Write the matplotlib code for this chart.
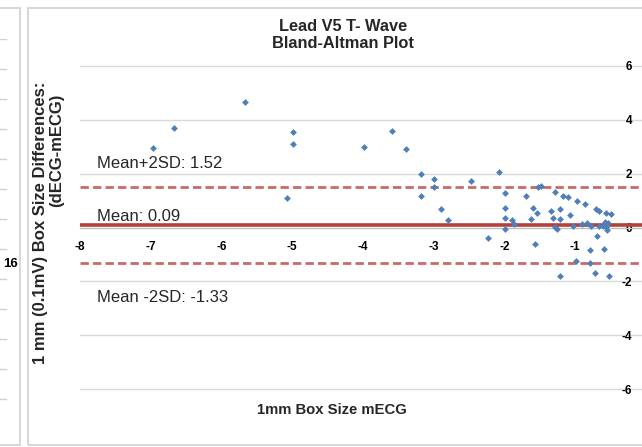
import matplotlib
matplotlib.use("Agg")
import matplotlib.pyplot as plt
from matplotlib.patches import Rectangle

plt.rcParams['font.family'] = ['Liberation Sans', 'DejaVu Sans']
plt.rcParams['axes.unicode_minus'] = False

# 1mm box size from mECG (x) and dECG-mECG difference (y)
mecg = [-6.97, -6.67, -5.67, -4.99, -4.99, -5.08, -3.98, -3.59, -3.39, -3.18,
        -3.18, -2.99, -2.99, -2.90, -2.80, -2.47, -2.23, -2.08, -1.99, -1.99,
        -1.99, -1.99, -1.90, -1.86, -1.69, -1.63, -1.60, -1.54, -1.57, -1.53,
        -1.48, -1.34, -1.31, -1.29, -1.28, -1.26, -1.22, -1.21, -1.22, -1.17,
        -1.10, -1.08, -1.03, -0.99, -0.98, -0.91, -0.86, -0.84, -0.79, -0.79,
        -0.78, -0.72, -0.70, -0.69, -0.67, -0.66, -0.61, -0.59, -0.58, -0.56,
        -0.56, -0.53, -0.50, -0.55, -0.54]
diff = [2.97, 3.69, 4.66, 3.56, 3.09, 1.08, 2.98, 3.58, 2.90, 1.98,
        1.18, 1.79, 1.50, 0.69, 0.28, 1.73, -0.40, 2.07, 1.29, 0.71,
        0.36, -0.06, 0.27, 0.14, 1.18, 0.32, 0.74, 0.54, -0.61, 1.52,
        1.53, 0.60, 0.34, 1.31, 0.03, -0.07, 0.68, 0.30, -1.79, 1.18,
        1.12, 0.46, 0.06, -1.24, 0.98, 0.13, 0.88, 0.16, -0.85, -1.31,
        0.06, -1.70, 0.68, -0.30, 0.07, 0.61, 0.06, -0.81, 0.22, 0.53,
        0.01, -1.80, 0.49, -0.09, 0.15]

mean_diff = 0.09
upper_loa = 1.52
lower_loa = -1.33

x_ticks = [-8, -7, -6, -5, -4, -3, -2, -1]
y_ticks = [-6, -4, -2, 0, 2, 4, 6]

# neighbouring (cropped) chart on the left edge
side_grid = list(range(1, 14))

W, H = 642, 447
fig = plt.figure(figsize=(W / 100, H / 100), dpi=100)

# chart frames
fig.patches.append(Rectangle((28 / W, 2 / H), 0.99, 437 / H, transform=fig.transFigure,
                             fill=False, edgecolor='#d0d0d0', lw=1.2))
fig.patches.append(Rectangle((-0.05, 2 / H), 0.05 + 20 / W, 437 / H, transform=fig.transFigure,
                             fill=False, edgecolor='#d0d0d0', lw=1.2))

side = fig.add_axes([0, 18 / H, 20 / W, 390 / H])
side.set_xlim(0, 1)
side.set_ylim(0, 13)
for v in side_grid:
    side.axhline(v, xmin=0, xmax=0.3, color='#d0d0d0', lw=1)
side.text(0.55, 5.5, '16', fontsize=9.5, fontweight='bold', ha='center', va='center')
side.axis('off')

ax = fig.add_axes([80 / W, 58 / H, 566 / W, 323 / H])
ax.set_xlim(-8, 0)
ax.set_ylim(-6, 6)

ax.yaxis.grid(True, color='#d9d9d9', lw=1)
ax.set_axisbelow(True)

ax.spines['top'].set_visible(False)
ax.spines['right'].set_visible(False)
ax.spines['left'].set_position(('data', 0))
ax.spines['bottom'].set_position(('data', 0))
ax.spines['bottom'].set_color('#bfbfbf')
ax.spines['left'].set_color('#bfbfbf')

ax.set_xticks(x_ticks)
ax.set_yticks(y_ticks)
ax.tick_params(axis='y', length=0, pad=10, labelsize=8.5)
ax.tick_params(axis='x', length=0, pad=10, labelsize=8.5)
for lab in ax.get_xticklabels() + ax.get_yticklabels():
    lab.set_fontweight('bold')
for gl in ax.get_ygridlines():
    gl.set_clip_on(False)

ax.axhline(mean_diff, color='#b3403d', lw=2.6, zorder=2)
ax.axhline(upper_loa, color='#c0504d', lw=2, dashes=(3, 1.5), alpha=0.85, zorder=2)
ax.axhline(lower_loa, color='#c0504d', lw=2, dashes=(3, 1.5), alpha=0.85, zorder=2)

ax.scatter(mecg, diff, marker='D', s=12, color='#4f7fb8', zorder=3, linewidths=0)

ax.annotate(f'Mean+2SD: {upper_loa}', xy=(-8, upper_loa), xytext=(17, 23),
            textcoords='offset pixels', fontsize=12, color='#262626', va='center')
ax.annotate(f'Mean: {mean_diff}', xy=(-8, mean_diff), xytext=(17, 9),
            textcoords='offset pixels', fontsize=12, color='#262626', va='center')
ax.annotate(f'Mean -2SD: {lower_loa}', xy=(-8, lower_loa), xytext=(17, -34),
            textcoords='offset pixels', fontsize=12, color='#262626', va='center')

fig.text(343 / W, 1 - 35 / H, 'Lead V5 T- Wave\nBland-Altman Plot', ha='center', va='center',
         fontsize=11.8, fontweight='bold', color='#262626', linespacing=1.2)
fig.text(332 / W, 1 - 410 / H, '1mm Box Size mECG', ha='center', va='center',
         fontsize=10.7, fontweight='bold', color='#262626')
# y label: second line sits under the end of the first one
fig.text(41 / W, 1 - 223 / H, '1 mm (0.1mV) Box Size Differences:', rotation=90,
         ha='center', va='center', fontsize=12, fontweight='bold', color='#262626')
fig.text(57 / W, 1 - 94 / H, '(dECG-mECG)', rotation=90,
         ha='center', va='top', fontsize=12, fontweight='bold', color='#262626')

fig.savefig('out.png', dpi=100)
